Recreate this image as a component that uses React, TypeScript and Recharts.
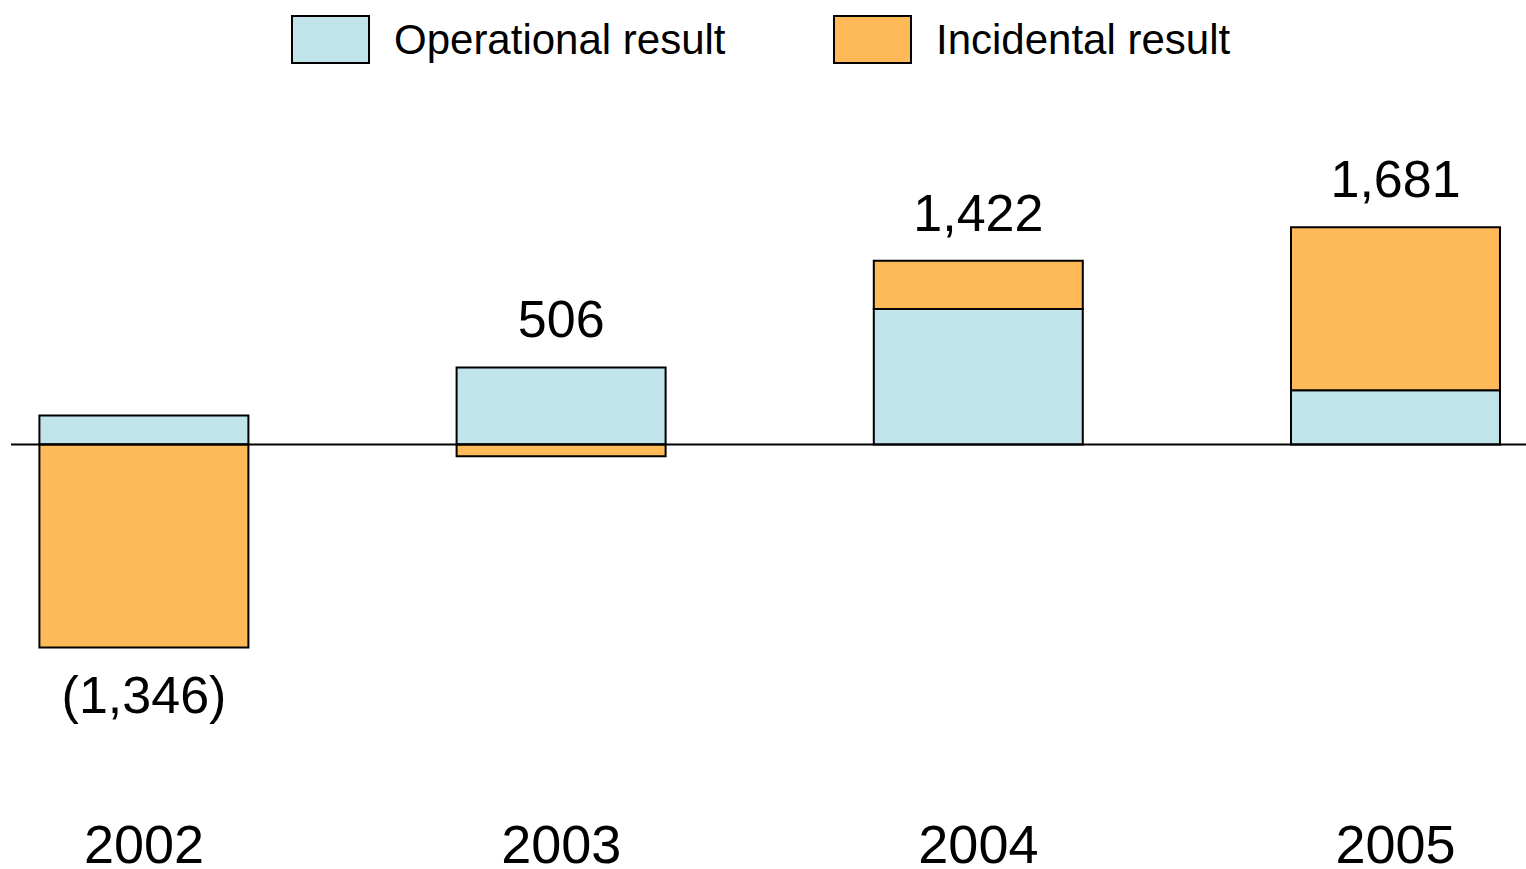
import React from 'react';
import { ComposedChart, Bar, Line, XAxis, YAxis, ReferenceLine } from 'recharts';

const years = ['2002', '2003', '2004', '2005'];
const operational = [225, 597, 1049, 420];
const incidental = [-1571, -91, 373, 1261];
const totals = [-1346, 506, 1422, 1681];

const seriesNames = ['Operational result', 'Incidental result'];
const seriesColors = ['#C1E3EA', '#FEB958'];

const FONT = '"Liberation Sans", Arial, sans-serif';

// the total label sits just past the outer edge of each stack
const data = years.map((year, i) => {
  const op = operational[i];
  const inc = incidental[i];
  const total = totals[i];
  const edge = total >= 0 ? Math.max(op, 0) + Math.max(inc, 0) : Math.min(op, 0) + Math.min(inc, 0);
  return { idx: i, year, op, inc, total, edge };
});

const fmtTotal = (v: number) => {
  const s = Math.abs(v).toLocaleString('en-US');
  return v < 0 ? `(${s})` : s;
};

const YearTick = (props: any) => {
  const { x, y, payload } = props;
  return (
    <text x={x} y={y + 31} textAnchor="middle" fontSize={54} fontFamily={FONT} fill="#000">
      {years[payload.value]}
    </text>
  );
};

const TotalLabel = (props: any) => {
  const { cx, cy, payload, index } = props;
  if (cx == null || cy == null) return <g key={`t-${index}`} />;
  const positive = payload.total >= 0;
  return (
    <text
      key={`t-${index}`}
      x={cx}
      y={positive ? cy - 30 : cy + 66}
      textAnchor="middle"
      fontSize={52}
      fontFamily={FONT}
      fill="#000"
    >
      {fmtTotal(payload.total)}
    </text>
  );
};

const legendLeft = [291, 833];

const App: React.FC = () => {
  return (
    <div style={{ position: 'absolute', left: 0, top: 0, width: 1526, height: 869, background: '#fff' }}>
      {seriesNames.map((name, i) => (
        <div key={name} style={{ position: 'absolute', left: legendLeft[i], top: 15, height: 49, display: 'flex', alignItems: 'center' }}>
          <div
            style={{
              width: 79,
              height: 49,
              boxSizing: 'border-box',
              border: '2px solid #000',
              background: seriesColors[i],
            }}
          />
          <span style={{ marginLeft: 24, fontFamily: FONT, fontSize: 42, color: '#000', lineHeight: '47px', whiteSpace: 'nowrap' }}>
            {name}
          </span>
        </div>
      ))}
      <ComposedChart
        width={1526}
        height={869}
        data={data}
        stackOffset="sign"
        margin={{ top: 57, right: 0, bottom: 0, left: 11 }}
      >
        <XAxis
          type="number"
          dataKey="idx"
          domain={[-0.3188, 3.3126]}
          ticks={[0, 1, 2, 3]}
          allowDataOverflow
          axisLine={false}
          tickLine={false}
          tickSize={0}
          tickMargin={0}
          height={37}
          tick={<YearTick />}
          interval={0}
        />
        <YAxis hide domain={[-3000, 3000]} allowDataOverflow />
        <Bar dataKey="op" stackId="r" fill={seriesColors[0]} stroke="#000" strokeWidth={2} barSize={209} isAnimationActive={false} />
        <Bar dataKey="inc" stackId="r" fill={seriesColors[1]} stroke="#000" strokeWidth={2} barSize={209} isAnimationActive={false} />
        <ReferenceLine y={0} stroke="#000" strokeWidth={2} />
        <Line dataKey="edge" stroke="none" dot={TotalLabel} activeDot={false} isAnimationActive={false} legendType="none" />
      </ComposedChart>
    </div>
  );
};

export default App;
